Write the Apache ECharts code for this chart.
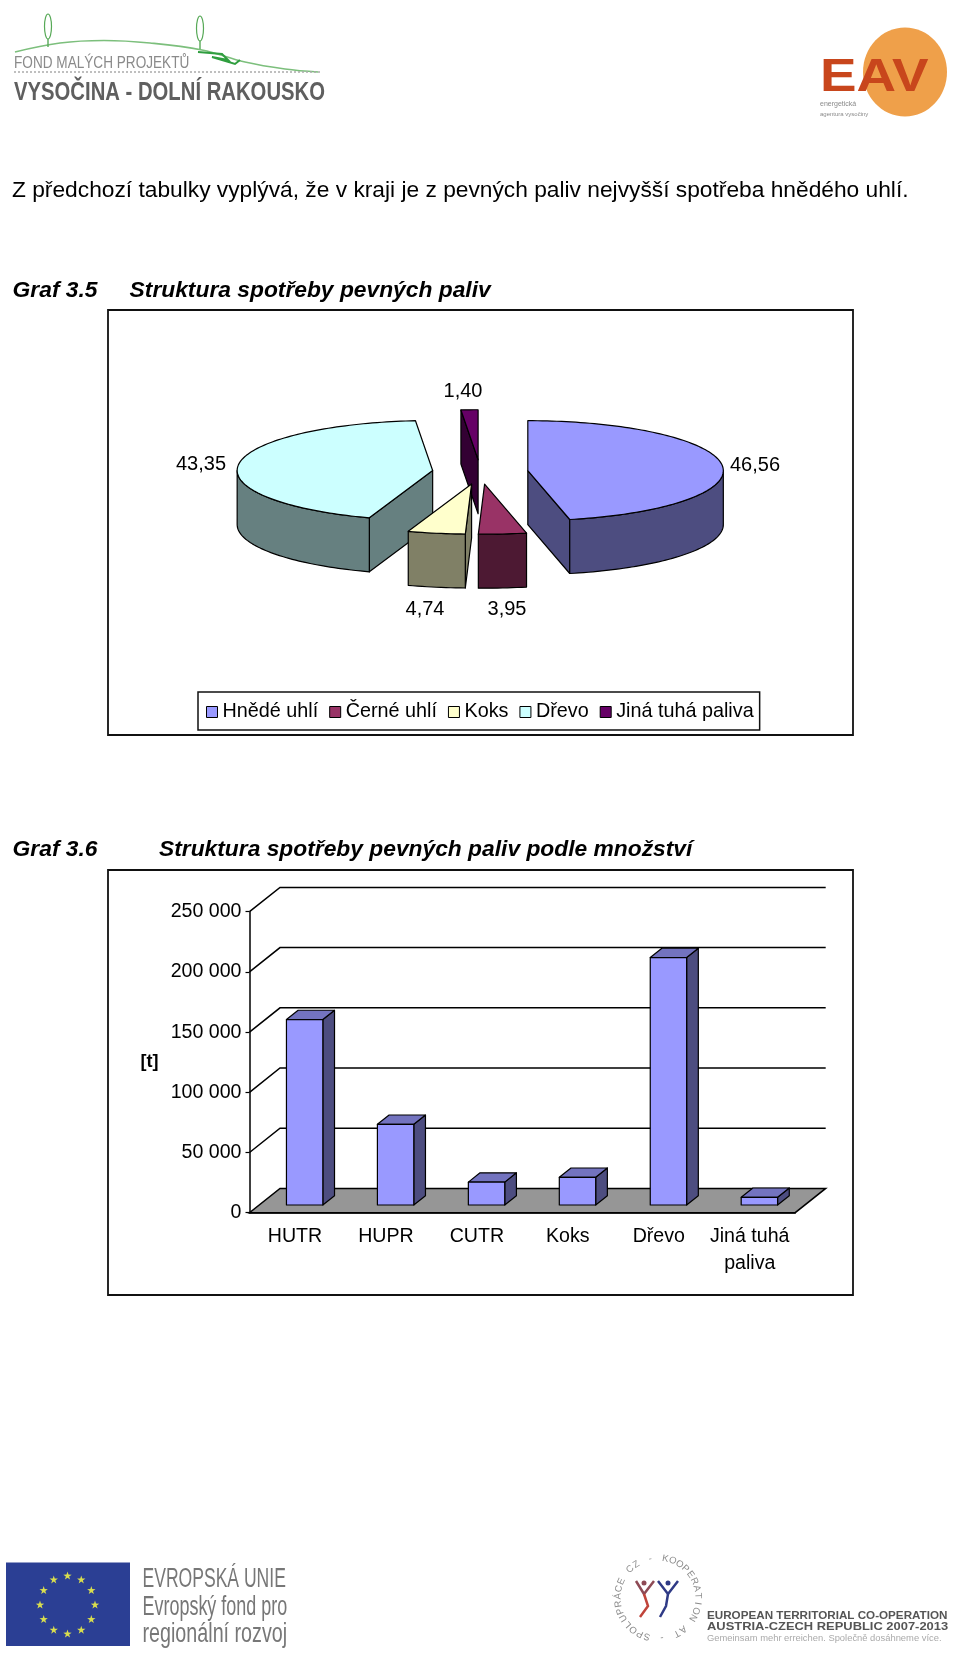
<!DOCTYPE html>
<html><head><meta charset="utf-8">
<style>html,body{margin:0;padding:0;background:#fff}#c{width:960px;height:1653px}</style>
<script src="https://cdn.jsdelivr.net/npm/echarts@6/dist/echarts.min.js"></script>
</head><body><div id="c"></div>
<script>
// ---- data ----
const pieNames = ['Hnědé uhlí', 'Černé uhlí', 'Koks', 'Dřevo', 'Jiná tuhá paliva'];
const pieValues = [46.56, 3.95, 4.74, 43.35, 1.40];
const pieLabels = ['46,56', '3,95', '4,74', '43,35', '1,40'];
const barCategories = ['HUTR', 'HUPR', 'CUTR', 'Koks', 'Dřevo', 'Jiná tuhá\npaliva'];
const barValues = [154000, 67000, 19000, 23000, 205500, 6400];
const yTicks = [0, 50000, 100000, 150000, 200000, 250000];

// ---- styles / layout ----
const FONT = '"Liberation Sans", Arial, sans-serif';
const pieTop = ['#9999FF', '#993366', '#FFFFCC', '#CCFFFF', '#660066'];
const pieSide = ['#4D4D80', '#4D1933', '#808066', '#668080', '#330033'];
const pieGeom = {cx: 480.2, cy: 472, rx: 195.5, ry: 50, depth: 54, explode: 0.245};
const pieLabelPos = [[755, 465], [507, 609], [425, 609], [201, 464], [463, 391]];
const drawOrder = [4, 3, 0, 2, 1];
const DX = 30.5, DY = 24.3, T0 = 0.317, T1 = 0.70;

const cum = [];
pieValues.reduce((s, v, i) => { cum[i] = s; return s + v; }, 0);
const total = pieValues.reduce((a, b) => a + b, 0);

function sliceRender(i) {
  return function () {
    const g = pieGeom;
    const a = cum[i] / total * 2 * Math.PI, b = (cum[i] + pieValues[i]) / total * 2 * Math.PI;
    const mid = (a + b) / 2;
    const cx = g.cx + g.explode * g.rx * Math.sin(mid), cy = g.cy - g.explode * g.ry * Math.cos(mid);
    const P = t => [cx + g.rx * Math.sin(t), cy - g.ry * Math.cos(t)];
    const down = p => [p[0], p[1] + g.depth];
    const arc = (s, e) => { const n = Math.max(2, Math.ceil((e - s) * 40)), o = []; for (let k = 0; k <= n; k++) o.push(P(s + (e - s) * k / n)); return o; };
    const ch = [];
    const poly = (pts, fill) => ch.push({type: 'polygon', shape: {points: pts}, style: {fill, stroke: '#000', lineWidth: 1.2, lineJoin: 'round'}});
    const c = [cx, cy];
    if (Math.sin(a) < -1e-6) poly([c, P(a), down(P(a)), down(c)], pieSide[i]);
    if (Math.sin(b) > 1e-6) poly([c, P(b), down(P(b)), down(c)], pieSide[i]);
    const s = Math.max(a, Math.PI / 2), e = Math.min(b, 1.5 * Math.PI);
    if (e > s) { const top = arc(s, e); poly(top.concat(top.slice().reverse().map(down)), pieSide[i]); }
    poly([c].concat(arc(a, b)), pieTop[i]);
    ch.push({type: 'text', x: pieLabelPos[i][0], y: pieLabelPos[i][1], style: {text: pieLabels[i], font: '20px ' + FONT, fill: '#000', align: 'center', verticalAlign: 'middle'}});
    return {type: 'group', children: ch};
  };
}
const pieSeries = drawOrder.map(i => ({
  type: 'custom', name: pieNames[i], coordinateSystem: 'none', silent: true,
  itemStyle: {color: pieTop[i]}, data: [[pieValues[i]]], renderItem: sliceRender(i), z: 3
}));

function wallRender(params, api) {
  const v = api.value(0);
  const band = api.size([1, 0])[0];
  const L = api.coord([0, v]); const xl = L[0] - band / 2, y = L[1];
  const xr = xl + band * barCategories.length;
  if (v === 0) {
    return {type: 'polygon', shape: {points: [[xl, y], [xr, y], [xr + DX, y - DY], [xl + DX, y - DY]]}, style: {fill: '#969696', stroke: '#000', lineWidth: 1.5}};
  }
  return {type: 'polyline', shape: {points: [[xl, y], [xl + DX, y - DY], [xr + DX, y - DY]]}, style: {fill: 'none', stroke: '#000', lineWidth: 1.5}};
}
function barRender(params, api) {
  const i = api.value(0), v = api.value(1);
  const band = api.size([1, 0])[0], w = band / 2.5;
  const b = api.coord([i, 0]), t = api.coord([i, v]);
  const x0 = b[0] - w / 2 + DX * T0, x1 = x0 + w, yb = b[1] - DY * T0, h = b[1] - t[1], yt = yb - h;
  const ox = DX * (T1 - T0), oy = DY * (T1 - T0);
  const st = {stroke: '#000', lineWidth: 1.2, lineJoin: 'round'};
  return {type: 'group', children: [
    {type: 'polygon', shape: {points: [[x1, yt], [x1 + ox, yt - oy], [x1 + ox, yb - oy], [x1, yb]]}, style: {...st, fill: '#4D4D80'}},
    {type: 'polygon', shape: {points: [[x0, yt], [x0 + ox, yt - oy], [x1 + ox, yt - oy], [x1, yt]]}, style: {...st, fill: '#7373BF'}},
    {type: 'rect', shape: {x: x0, y: yt, width: w, height: h}, style: {...st, fill: '#9999FF'}}
  ]};
}

// ---- page furniture (text and simplified logos) ----
const txt = (x, y, text, font, fill, extra) => ({type: 'text', x, y, z: 5, silent: true, style: {text, font, fill: fill || '#000', verticalAlign: 'middle'}, ...(extra || {})});
const ln = (pts, stroke, lineWidth, extra) => ({type: 'polyline', silent: true, z: 4, shape: {points: pts, smooth: (extra && extra.smooth) || 0}, style: {stroke, lineWidth, fill: 'none', lineDash: extra && extra.dash}});
const gr = [];
gr.push({type: 'rect', z: 1, silent: true, shape: {x: 108, y: 310, width: 745, height: 425}, style: {fill: 'none', stroke: '#111', lineWidth: 1.8}});
gr.push({type: 'rect', z: 1, silent: true, shape: {x: 108, y: 870, width: 745, height: 425}, style: {fill: 'none', stroke: '#111', lineWidth: 1.8}});
gr.push(txt(12, 190.5, 'Z předchozí tabulky vyplývá, že v kraji je z pevných paliv nejvyšší spotřeba hnědého uhlí.', '22.75px ' + FONT));
gr.push(txt(12.6, 291, 'Graf 3.5', 'italic bold 22.8px ' + FONT));
gr.push(txt(129.6, 291, 'Struktura spotřeby pevných paliv', 'italic bold 22.8px ' + FONT));
gr.push(txt(12.6, 850, 'Graf 3.6', 'italic bold 22.8px ' + FONT));
gr.push(txt(159, 850, 'Struktura spotřeby pevných paliv podle množství', 'italic bold 22.8px ' + FONT));
// project logo
gr.push(ln([[15, 52], [60, 43], [104, 40.5], [150, 43], [202, 50], [245, 62], [285, 69], [318, 72]], '#7cbf7c', 1.6, {smooth: 0.4}));
[[48, 14, 47], [200, 16, 49]].forEach(t => gr.push({type: 'ellipse', silent: true, z: 4, shape: {cx: t[0], cy: (t[1] + t[2] - 8) / 2, rx: 3.5, ry: (t[2] - t[1] - 8) / 2}, style: {fill: '#fff', stroke: '#57a957', lineWidth: 1.2}}, ln([[t[0], t[2] - 8], [t[0], t[2]]], '#57a957', 1.4)));
gr.push(ln([[198, 52], [222, 54], [228, 60], [212, 57], [235, 64], [240, 60]], '#2f9e3f', 2));
gr.push(ln([[14, 72], [320, 72]], '#aaa', 1.4, {dash: [2, 2]}));
gr.push(txt(14, 64, 'FOND MALÝCH PROJEKTŮ', '16px ' + FONT, '#8a8a8a', {scaleX: 0.85}));
gr.push(txt(14, 92.5, 'VYSOČINA - DOLNÍ RAKOUSKO', 'bold 26px ' + FONT, '#5f5f5f', {scaleX: 0.78}));
// EAV logo
gr.push({type: 'ellipse', silent: true, z: 3, shape: {cx: 905, cy: 72, rx: 42, ry: 44.5}, style: {fill: '#EFA04A'}});
gr.push(txt(820, 78, 'EAV', 'bold 46px ' + FONT, '#C8461C', {scaleX: 1.19}));
gr.push(txt(820, 104, 'energetická', '7px ' + FONT, '#8a8a8a'));
gr.push(txt(820, 114, 'agentura vysočiny', '6px ' + FONT, '#8a8a8a'));
// EU logo
gr.push({type: 'rect', silent: true, z: 3, shape: {x: 6, y: 1562.5, width: 124, height: 83.5}, style: {fill: '#2B3F94'}});
for (let k = 0; k < 12; k++) {
  const t = k / 12 * 2 * Math.PI, px = 67.5 + 27.5 * Math.sin(t), py = 1605 - 29 * Math.cos(t), pts = [];
  for (let j = 0; j < 10; j++) { const r = j % 2 ? 1.7 : 4.4, u = j / 10 * 2 * Math.PI; pts.push([px + r * Math.sin(u), py - r * Math.cos(u)]); }
  gr.push({type: 'polygon', silent: true, z: 4, shape: {points: pts}, style: {fill: '#D9DE4E'}});
}
gr.push(txt(142.5, 1580, 'EVROPSKÁ UNIE', '27px ' + FONT, '#777', {scaleX: 0.65}));
gr.push(txt(142.5, 1608, 'Evropský fond pro', '27px ' + FONT, '#777', {scaleX: 0.665}));
gr.push(txt(142.5, 1635, 'regionální rozvoj', '27px ' + FONT, '#777', {scaleX: 0.73}));
// cooperation logo
const ring = 'SPOLUPRÁCE CZ - KOOPERATION AT - ';
ring.split('').forEach((c, k) => {
  const t = (196 + k / ring.length * 360) / 180 * Math.PI, x = 658 + 40 * Math.sin(t), y = 1598 - 40 * Math.cos(t);
  gr.push({type: 'text', silent: true, z: 4, x, y, rotation: -t, style: {text: c, font: '9.5px ' + FONT, fill: '#8a8a8a', align: 'center', verticalAlign: 'middle'}});
});
gr.push({type: 'circle', silent: true, z: 4, shape: {cx: 644, cy: 1583, r: 2.5}, style: {fill: '#8e4a55'}});
gr.push({type: 'circle', silent: true, z: 4, shape: {cx: 668, cy: 1583, r: 2.5}, style: {fill: '#2f3a86'}});
gr.push(ln([[636, 1581], [644, 1594], [654, 1581]], '#8e4a55', 2.5));
gr.push(ln([[644, 1594], [648, 1606], [640, 1617]], '#c0443a', 2.5));
gr.push(ln([[658, 1581], [668, 1594], [678, 1581]], '#2f3a86', 2.5));
gr.push(ln([[668, 1594], [666, 1606], [660, 1617]], '#2f3a86', 2.5));
gr.push(txt(707, 1616.5, 'EUROPEAN TERRITORIAL CO-OPERATION', 'bold 10.5px ' + FONT, '#555', {scaleX: 1.11}));
gr.push(txt(707, 1627, 'AUSTRIA-CZECH REPUBLIC 2007-2013', 'bold 10.5px ' + FONT, '#555', {scaleX: 1.23}));
gr.push(txt(707, 1638, 'Gemeinsam mehr erreichen. Společně dosáhneme více.', '9.4px ' + FONT, '#aaa'));

const chart = echarts.init(document.getElementById('c'), null, {renderer: 'canvas'});
chart.setOption({
  animation: false,
  backgroundColor: '#fff',
  textStyle: {fontFamily: FONT},
  legend: {
    data: pieNames, left: 198, top: 692, orient: 'horizontal',
    itemWidth: 11, itemHeight: 11, itemGap: 11, icon: 'rect',
    padding: [10, 6, 8, 8], borderColor: '#111', borderWidth: 1.5,
    selectedMode: false, itemStyle: {borderColor: '#000', borderWidth: 1},
    textStyle: {fontSize: 19.8, color: '#000', fontFamily: FONT}
  },
  grid: {left: 249.5, width: 545.7, top: 911.7, height: 301},
  xAxis: {type: 'category', data: barCategories,
    axisLine: {lineStyle: {color: '#000', width: 1.5}}, axisTick: {length: 4, lineStyle: {color: '#000', width: 1.2}},
    axisLabel: {color: '#000', fontSize: 19.6, lineHeight: 27, margin: 10.5, fontFamily: FONT, interval: 0}},
  yAxis: {type: 'value', min: 0, max: 250000, interval: 50000, name: '[t]', nameLocation: 'middle', nameRotate: 0, nameGap: 91,
    nameTextStyle: {fontSize: 18, fontWeight: 'bold', color: '#000', fontFamily: FONT, padding: [3, 0, 0, 0]},
    axisLine: {show: true, lineStyle: {color: '#000', width: 1.5}}, axisTick: {show: true, length: 4, lineStyle: {color: '#000', width: 1.2}},
    splitLine: {show: false},
    axisLabel: {color: '#000', fontSize: 19.6, margin: 8, padding: [3, 0, 0, 0], fontFamily: FONT, formatter: v => String(v).replace(/\B(?=(\d{3})+$)/g, ' ')}},
  graphic: {elements: gr},
  series: pieSeries.concat([
    {type: 'custom', name: 'wall', silent: true, z: 1, data: yTicks.map(v => [v]), encode: {y: 0}, renderItem: wallRender},
    {type: 'custom', name: 'bars', silent: true, z: 2, data: barValues.map((v, i) => [i, v]), encode: {x: 0, y: 1}, renderItem: barRender}
  ])
});
</script></body></html>
